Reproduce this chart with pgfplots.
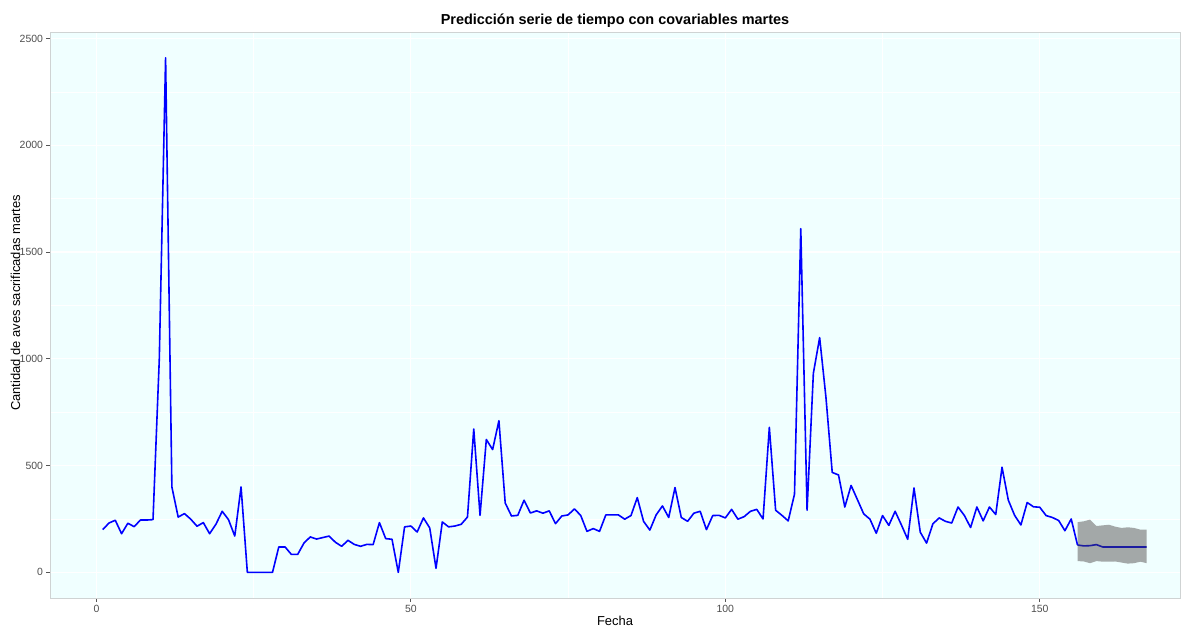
\documentclass[border=0pt]{standalone}
\usepackage{pgfplots}
\pgfplotsset{compat=1.18}
\usepgfplotslibrary{fillbetween}
\usepackage{fontspec}
\setmainfont{Liberation Sans}

\definecolor{panelbg}{HTML}{F0FFFF}
\definecolor{ticktext}{HTML}{4D4D4D}
\definecolor{tickgrey}{HTML}{555555}
\definecolor{bordergrey}{HTML}{CFD3D3}
\definecolor{ribbon}{HTML}{A3A8A8}
\definecolor{fcline}{HTML}{1C1CA0}

% observed weekly counts (Tuesdays)
\pgfplotstableread{
x y
1 200
2 231
3 244
4 181
5 230
6 214
7 245
8 245
9 247
10 1000
11 2409
12 400
13 259
14 275
15 249
16 216
17 233
18 181
19 225
20 286
21 247
22 170
23 400
24 0
25 0
26 0
27 0
28 0
29 119
30 119
31 84
32 84
33 137
34 166
35 156
36 163
37 170
38 141
39 122
40 150
41 131
42 122
43 131
44 130
45 233
46 158
47 155
48 0
49 213
50 217
51 189
52 255
53 208
54 19
55 236
56 213
57 217
58 225
59 259
60 671
61 267
62 622
63 575
64 710
65 325
66 264
67 267
68 338
69 278
70 288
71 277
72 288
73 228
74 264
75 269
76 297
77 267
78 192
79 205
80 192
81 269
82 269
83 269
84 249
85 266
86 350
87 239
88 198
89 269
90 311
91 257
92 397
93 257
94 239
95 277
96 286
97 200
98 266
99 267
100 255
101 295
102 249
103 261
104 286
105 295
106 250
107 679
108 291
109 267
110 241
111 366
112 1609
113 291
114 932
115 1099
116 820
117 468
118 456
119 306
120 407
121 341
122 274
123 249
124 183
125 266
126 220
127 286
128 222
129 155
130 395
131 188
132 137
133 227
134 255
135 239
136 231
137 306
138 267
139 210
140 306
141 241
142 306
143 271
144 492
145 338
146 267
147 222
148 327
149 307
150 305
151 266
152 257
153 243
154 195
155 250
156 128
}\observed

% forecast with interval bounds
\pgfplotstableread{
x fc lo hi
156 128 53 235
157 124 51 239
158 125 43 247
159 130 53 217
160 119 50 220
161 119 50 223
162 119 51 214
163 119 46 208
164 119 41 211
165 119 43 208
166 119 50 200
167 119 43 200
}\forecast

\begin{document}
\begin{tikzpicture}
\begin{axis}[
  scale only axis,
  width=1130bp, height=566bp,
  xmin=-7.38, xmax=172.3,
  ymin=-120, ymax=2530,
  axis background/.style={fill=panelbg},
  axis line style={draw=bordergrey, line width=0.8bp},
  xtick={0,50,100,150},
  ytick={0,500,1000,1500,2000,2500},
  minor xtick={25,75,125},
  minor ytick={250,750,1250,1750,2250},
  grid=both,
  major grid style={white, line width=1.1bp},
  minor grid style={white, line width=0.55bp},
  tick align=outside, tick pos=left,
  major tick length=3.5bp, minor tick length=0pt,
  every tick/.style={tickgrey, line width=0.8bp},
  /pgf/number format/assume math mode=true,
  scaled ticks=false,
  /pgf/number format/1000 sep={},
  ticklabel style={font=\fontsize{10.5}{12}\selectfont, text=ticktext},
  xlabel={Fecha},
  ylabel={Cantidad de aves sacrificadas martes},
  xlabel style={font=\fontsize{13}{15}\selectfont, at={(axis description cs:0.5,0)}, anchor=base, yshift=-27bp},
  ylabel style={font=\fontsize{13}{15}\selectfont, at={(axis description cs:0,0.5)}, anchor=base, rotate=0, yshift=30bp, xshift=12bp},
  title={\bfseries Predicción serie de tiempo con covariables martes},
  title style={font=\fontsize{14.5}{17}\selectfont, at={(axis description cs:0.5,1)}, anchor=base, yshift=2bp},
]
\addplot[blue, line width=1.6bp, line join=round] table[x=x, y=y] {\observed};
\addplot[name path=hi, draw=none, forget plot] table[x=x, y=hi] {\forecast};
\addplot[name path=lo, draw=none, forget plot] table[x=x, y=lo] {\forecast};
\addplot[ribbon, draw=none] fill between[of=hi and lo];
\addplot[fcline, line width=1.6bp, line join=round] table[x=x, y=fc] {\forecast};
\end{axis}
\pgfresetboundingbox
\path[use as bounding box] (-50bp,-29bp) rectangle (1138bp,598bp);
\end{tikzpicture}
\end{document}
